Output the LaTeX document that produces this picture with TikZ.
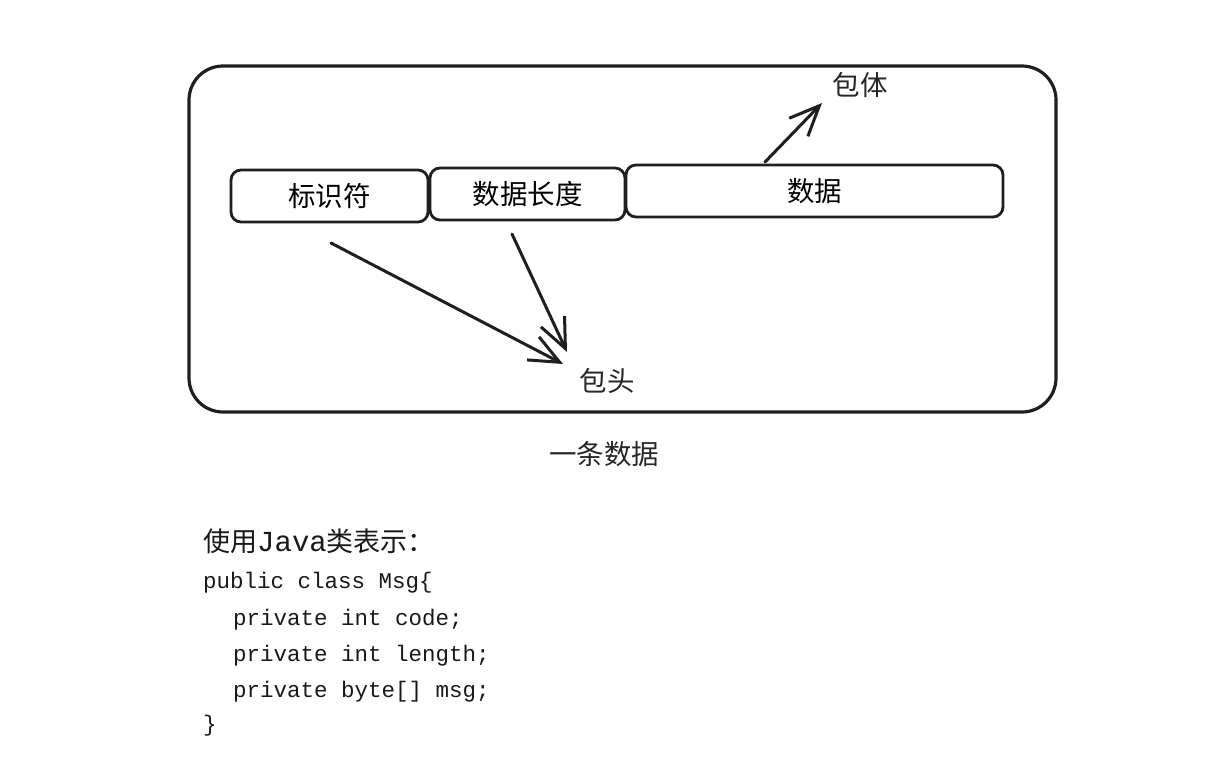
\documentclass[tikz,border=0pt]{standalone}
\usepackage{fontspec}
\setmainfont{Noto Sans CJK SC}
\newfontfamily\codefont{Liberation Mono}
\usetikzlibrary{arrows.meta}
\begin{document}
\begin{tikzpicture}[x=1pt,y=-1pt,
  outerbox/.style={draw=black!88,line width=3.2pt,rounded corners=34pt},
  fieldbox/.style={draw=black!88,line width=2.8pt,rounded corners=10pt,minimum height=52pt,inner sep=0pt,font=\fontsize{27.5}{30}\selectfont},
  lbl/.style={inner sep=0pt,font=\fontsize{27.5}{30}\selectfont,text=black!85},
  codeline/.style={anchor=base west,inner sep=0pt,font=\codefont\fontsize{22.5}{26}\selectfont,text=black!90},
  arr/.style={draw=black!88,line width=3pt,line cap=round,-{Straight Barb[length=30pt,width=26pt,line width=3pt]}}
]
\useasboundingbox (0,0) rectangle (1232,769);
\draw[outerbox] (189,66) rectangle (1056,412);
\node[fieldbox,minimum width=197pt] (id) at (329.5,196) {标识符};
\node[fieldbox,minimum width=195pt] (len) at (527.5,194) {数据长度};
\node[fieldbox,minimum width=377pt] (data) at (814.5,191) {数据};
\node[lbl] (body) at (860,85) {包体};
\node[lbl] (head) at (607,381) {包头};
\node[lbl] (title) at (604,454) {一条数据};
\coordinate (s1) at (765,162);
\coordinate (e1) at (822,103);
\coordinate (s2) at (331,243);
\coordinate (e2) at (563,364);
\coordinate (s3) at (512,234);
\coordinate (e3) at (567,352);
\draw[arr] (s1) -- (e1);
\draw[arr] (s2) -- (e2);
\draw[arr] (s3) -- (e3);
\node[anchor=base west,inner sep=0pt,font=\fontsize{27}{30}\selectfont,text=black!90] (cap) at (203,551) {使用{\codefont\fontsize{29}{30}\selectfont Java}类表示：};
\node[codeline] (c1) at (203,588) {public class Msg\{};
\node[codeline] (c2) at (233,625) {private int code;};
\node[codeline] (c3) at (233,661) {private int length;};
\node[codeline] (c4) at (233,697) {private byte[] msg;};
\node[codeline] (c5) at (203,731) {\}};
\end{tikzpicture}
\end{document}
